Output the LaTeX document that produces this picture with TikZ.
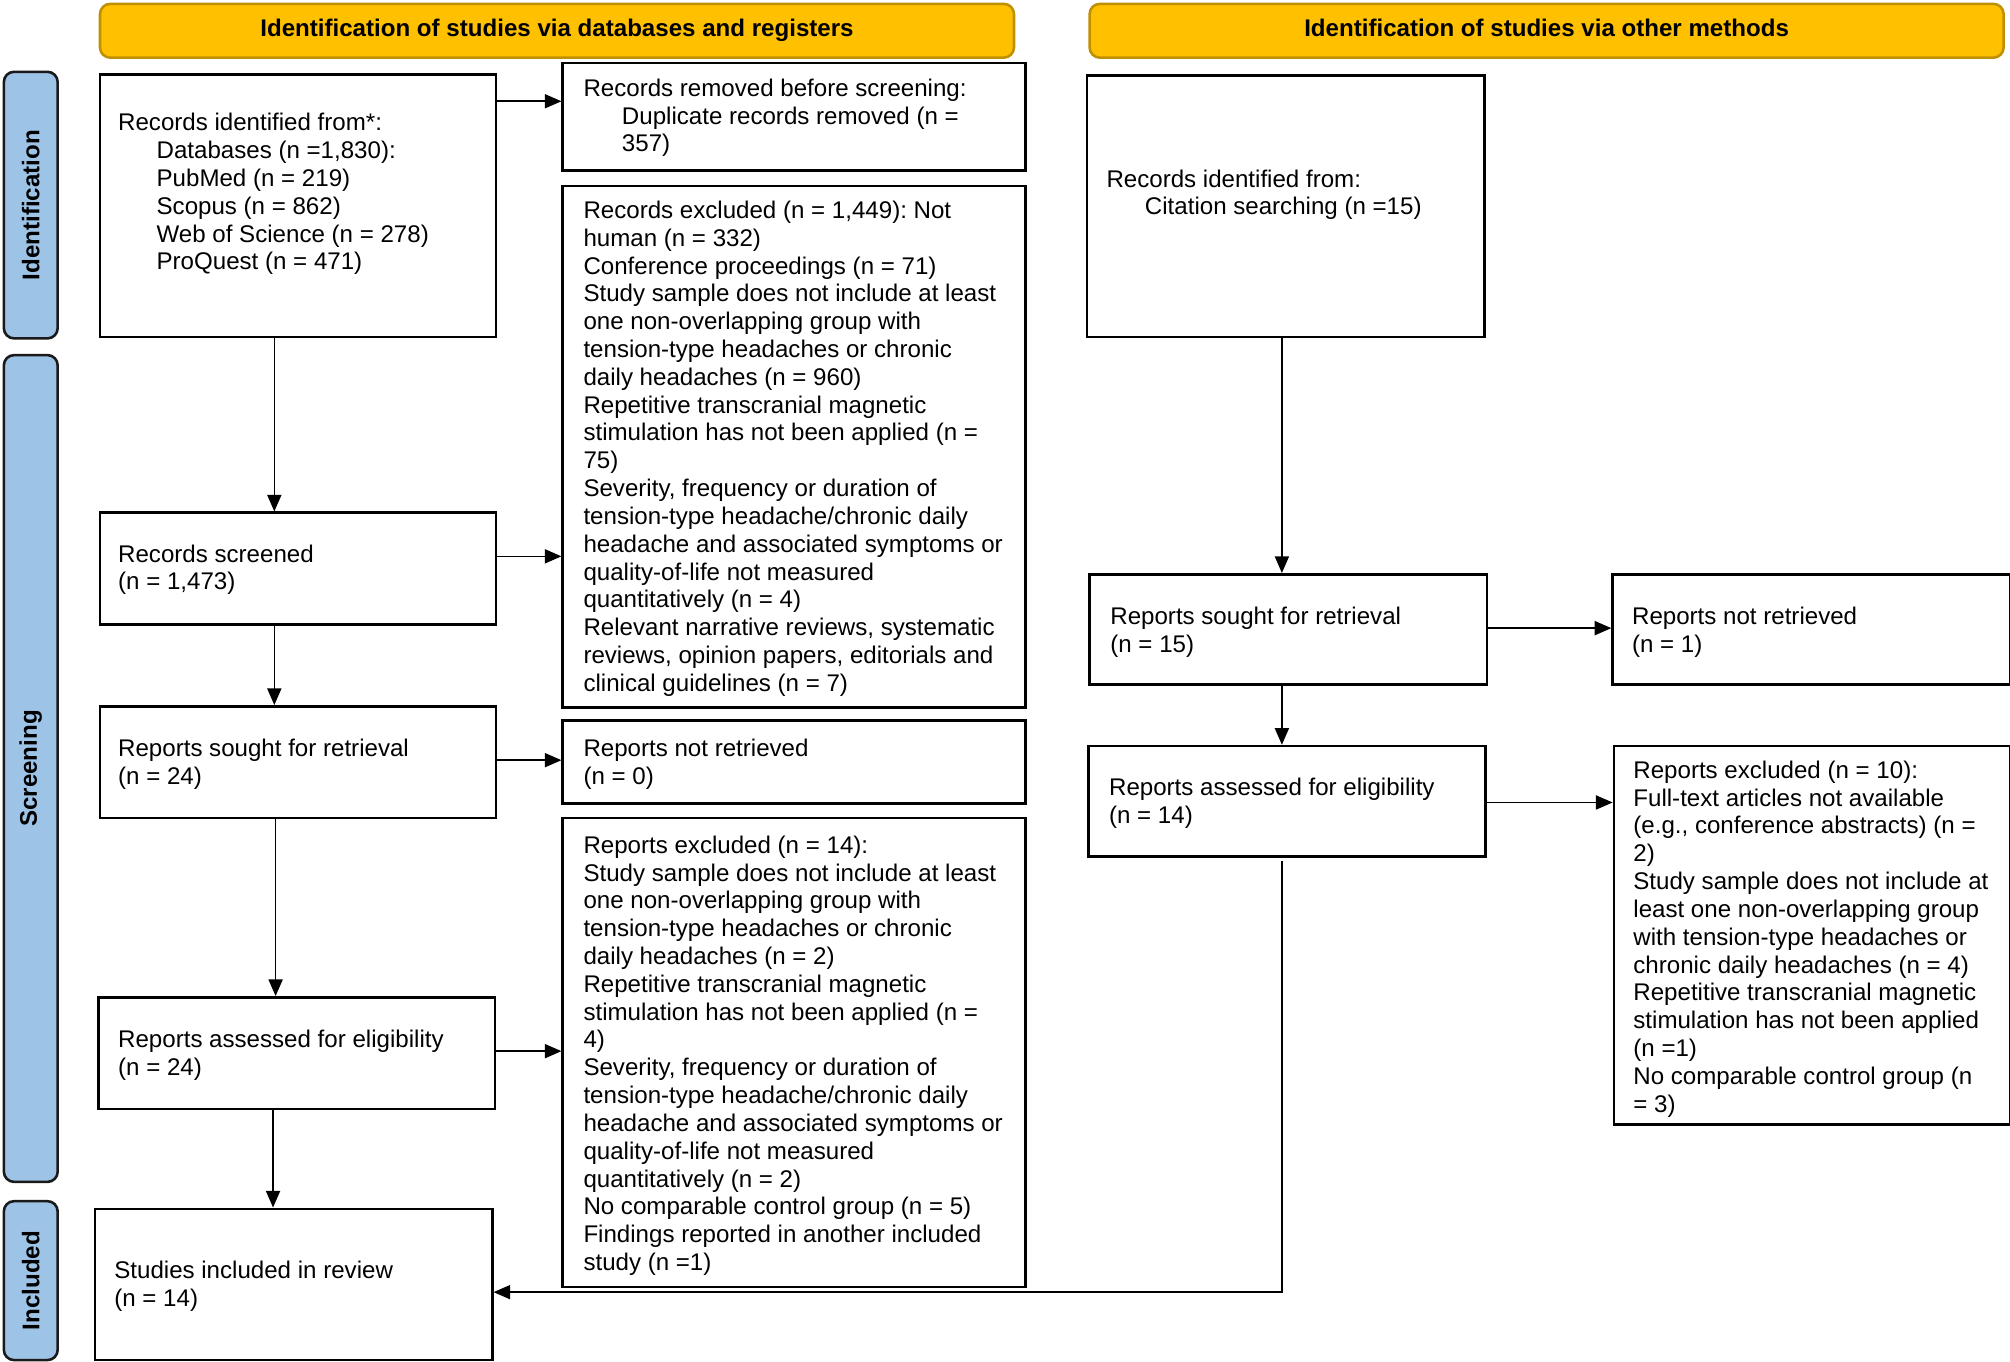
\documentclass[tikz,border=0pt]{standalone}
\usepackage{fontspec}
\setmainfont{Liberation Sans}
\usetikzlibrary{arrows.meta}
\definecolor{gold}{HTML}{FFC000}
\definecolor{goldline}{HTML}{BF9000}
\definecolor{sideblue}{HTML}{9DC3E6}
\definecolor{sideline}{HTML}{1A1A1A}
\newcommand{\ind}{\hspace*{30pt}}
\frenchspacing
\begin{document}
\frenchspacing
\begin{tikzpicture}[x=1pt,y=-1pt,
  box/.style={draw=black, line width=2pt, anchor=north west, inner sep=0pt},
  txt/.style={anchor=west, align=left, inner sep=0pt, yshift=-2.5pt, font=\fontsize{18.8}{21.7}\selectfont},
  hdr/.style={draw=goldline, fill=gold, line width=2pt, rounded corners=8pt, anchor=north west, inner sep=0pt, text height=13.5pt, text depth=4pt, font=\bfseries\fontsize{18.8}{21.7}\selectfont},
  side/.style={draw=sideline, fill=sideblue, line width=2pt, rounded corners=8pt, anchor=north west, inner sep=0pt},
  sidetxt/.style={rotate=90, font=\bfseries\fontsize{18.8}{21.7}\selectfont, inner sep=0pt},
  arr/.style={line width=1.2pt, -{Triangle[length=13pt,width=11pt]}}]
\useasboundingbox (0,0) rectangle (1568,1062);

% headers
\node[hdr, minimum width=713pt, minimum height=42pt] (h1) at (77,2) {Identification of studies via databases and registers};
\node[hdr, minimum width=713pt, minimum height=42pt] (h2) at (849,2) {Identification of studies via other methods};

% side labels
\node[side, minimum width=42pt, minimum height=208pt] (s1) at (2,55) {};
\node[sidetxt] at (s1.center) {Identification};
\node[side, minimum width=42pt, minimum height=645pt] (s2) at (2,276) {};
\node[sidetxt] at (s2.center) {Screening};
\node[side, minimum width=42pt, minimum height=124pt] (s3) at (2,936) {};
\node[sidetxt] at (s3.center) {Included};

% left column boxes
\node[box, minimum width=309pt, minimum height=205pt] (b1) at (77,57) {};
\node[txt] at (92,149) {Records identified from*:\\ \ind Databases (n =1,830):\\ \ind PubMed (n = 219)\\ \ind Scopus (n = 862)\\ \ind Web of Science (n = 278)\\ \ind ProQuest (n = 471)};

\node[box, minimum width=361pt, minimum height=84pt] (rem) at (438,48) {};
\node[txt] at (455,89.5) {Records removed before screening:\\ \ind Duplicate records removed (n =\\ \ind 357)};

\node[box, minimum width=361pt, minimum height=407pt] (ex1) at (438,144) {};
\node[txt] at (455,347.5) {Records excluded (n = 1,449): Not\\ human (n = 332)\\ Conference proceedings (n = 71)\\ Study sample does not include at least\\ one non-overlapping group with\\ tension-type headaches or chronic\\ daily headaches (n = 960)\\ Repetitive transcranial magnetic\\ stimulation has not been applied (n =\\ 75)\\ Severity, frequency or duration of\\ tension-type headache/chronic daily\\ headache and associated symptoms or\\ quality-of-life not measured\\ quantitatively (n = 4)\\ Relevant narrative reviews, systematic\\ reviews, opinion papers, editorials and\\ clinical guidelines (n = 7)};

\node[box, minimum width=309pt, minimum height=87pt] (scr) at (77,399) {};
\node[txt] at (92,442) {Records screened\\ (n = 1,473)};

\node[box, minimum width=309pt, minimum height=87pt] (sou) at (77,550) {};
\node[txt] at (92,594) {Reports sought for retrieval\\ (n = 24)};

\node[box, minimum width=361pt, minimum height=65pt] (nr) at (438,561) {};
\node[txt] at (455,594) {Reports not retrieved\\ (n = 0)};

\node[box, minimum width=361pt, minimum height=366pt] (ex2) at (438,637) {};
\node[txt] at (455,821) {Reports excluded (n = 14):\\ Study sample does not include at least\\ one non-overlapping group with\\ tension-type headaches or chronic\\ daily headaches (n = 2)\\ Repetitive transcranial magnetic\\ stimulation has not been applied (n =\\ 4)\\ Severity, frequency or duration of\\ tension-type headache/chronic daily\\ headache and associated symptoms or\\ quality-of-life not measured\\ quantitatively (n = 2)\\ No comparable control group (n = 5)\\ Findings reported in another included\\ study (n =1)};

\node[box, minimum width=309pt, minimum height=87pt] (ass) at (76,777) {};
\node[txt] at (92,821) {Reports assessed for eligibility\\ (n = 24)};

\node[box, minimum width=310pt, minimum height=118pt] (inc) at (73,942) {};
\node[txt] at (89,1001) {Studies included in review\\ (n = 14)};

% right column boxes
\node[box, minimum width=310pt, minimum height=204pt] (r1) at (847,58) {};
\node[txt] at (863,149.5) {Records identified from:\\ \ind Citation searching (n =15)};

\node[box, minimum width=310pt, minimum height=86pt] (rs) at (849,447) {};
\node[txt] at (866,490.5) {Reports sought for retrieval\\ (n = 15)};

\node[box, minimum width=310pt, minimum height=86pt] (rn) at (1257,447) {};
\node[txt] at (1273,490.5) {Reports not retrieved\\ (n = 1)};

\node[box, minimum width=310pt, minimum height=86pt] (ra) at (848,581) {};
\node[txt] at (865,624) {Reports assessed for eligibility\\ (n = 14)};

\node[box, minimum width=309pt, minimum height=295pt] (re) at (1258,581) {};
\node[txt] at (1274,730) {Reports excluded (n = 10):\\ Full-text articles not available\\ (e.g., conference abstracts) (n =\\ 2)\\ Study sample does not include at\\ least one non-overlapping group\\ with tension-type headaches or\\ chronic daily headaches (n = 4)\\ Repetitive transcranial magnetic\\ stimulation has not been applied\\ (n =1)\\ No comparable control group (n\\ = 3)};

% connectors
\draw[arr] (b1.east |- 0,79) -- (rem.west |- 0,79);
\draw[arr] (b1.south -| 214,0) -- (scr.north -| 214,0);
\draw[arr] (scr.east |- 0,434) -- (ex1.west |- 0,434);
\draw[arr] (scr.south -| 214,0) -- (sou.north -| 214,0);
\draw[arr] (sou.east |- 0,593) -- (nr.west |- 0,593);
\draw[arr] (sou.south -| 215,0) -- (ass.north -| 215,0);
\draw[arr] (ass.east |- 0,820) -- (ex2.west |- 0,820);
\draw[arr] (ass.south -| 213,0) -- (inc.north -| 213,0);
\draw[arr] (r1.south -| 1000,0) -- (rs.north -| 1000,0);
\draw[arr] (rs.east |- 0,490) -- (rn.west |- 0,490);
\draw[arr] (rs.south -| 1000,0) -- (ra.north -| 1000,0);
\draw[arr] (ra.east |- 0,626) -- (re.west |- 0,626);
\coordinate (c1) at (1000,672);
\draw[arr] (c1) |- (inc.east |- 0,1008);
\end{tikzpicture}
\end{document}
